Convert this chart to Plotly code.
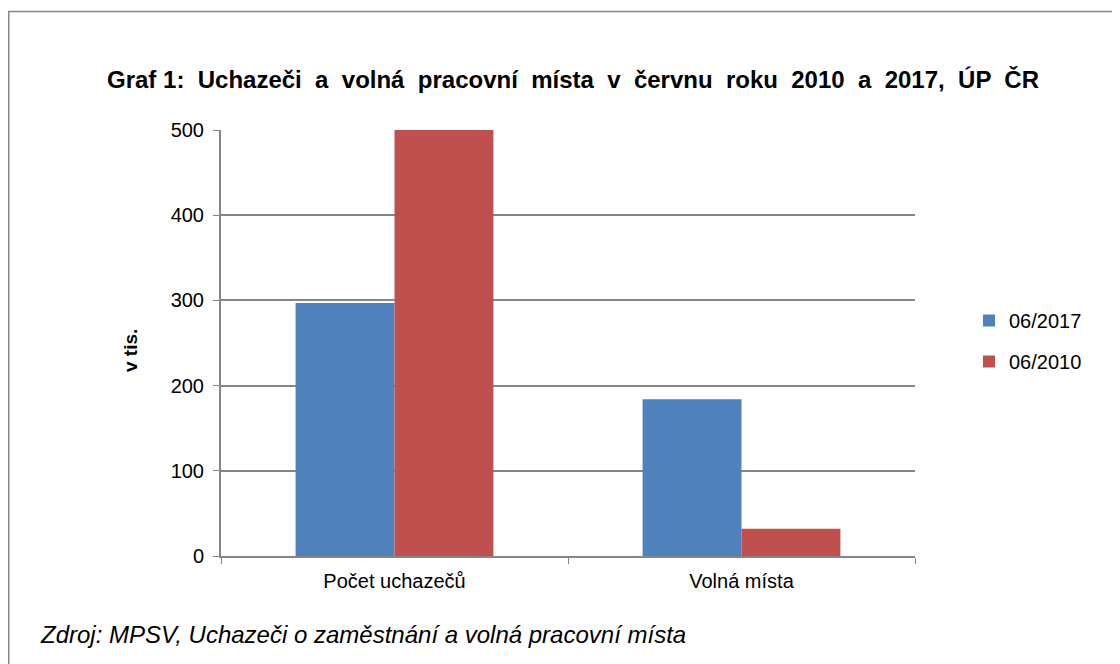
import plotly.graph_objects as go

# Data (v tis.)
categories = ["Počet uchazečů", "Volná místa"]
series_names = ["06/2017", "06/2010"]
values_2017 = [297, 184]
values_2010 = [500, 32]
y_ticks = [0, 100, 200, 300, 400, 500]

colors = {"06/2017": "#4F81BD", "06/2010": "#C0504D"}

# page body adds 8px around the figure, positions below are figure pixels
W, H = 1120, 664
L, T = 213, 122
pw, ph = 694, 426
R, B = W - L - pw, H - T - ph

def px_x(x):
    return (x - L) / pw

def px_y(y):
    return (T + ph - y) / ph

fig = go.Figure()
for name, vals in zip(series_names, [values_2017, values_2010]):
    fig.add_trace(go.Bar(x=categories, y=vals, name=name, legendgroup=name,
                         marker=dict(color=colors[name], line=dict(width=0))))

font = "Liberation Sans, Arial, sans-serif"

fig.update_layout(
    width=W, height=H,
    margin=dict(l=L, r=R, t=T, b=B),
    paper_bgcolor="white", plot_bgcolor="white",
    barmode="group", bargap=0.43, bargroupgap=0,
    font=dict(family=font, size=20, color="black"),
    title=dict(text="<b>Graf 1:  Uchazeči  a  volná  pracovní  místa  v  červnu  roku  2010  a  2017,  ÚP  ČR</b>",
               x=565 / W, xanchor="center", xref="container",
               y=1 - 72 / H, yanchor="middle", yref="container",
               font=dict(size=24, family=font, color="black")),
    legend=dict(x=px_x(961), y=px_y(333), xanchor="left", yanchor="middle",
                font=dict(size=20), itemwidth=30, traceorder="grouped", tracegroupgap=12,
                bgcolor="rgba(0,0,0,0)"),
    showlegend=True,
)

fig.update_xaxes(showgrid=False, showline=True, linecolor="#868686", linewidth=2,
                 ticks="outside", tickson="boundaries", ticklen=6, tickcolor="#868686",
                 tickfont=dict(size=20), ticklabelstandoff=6)
fig.update_yaxes(range=[0, 500], tickvals=y_ticks, showgrid=True, gridcolor="#868686", gridwidth=1.5,
                 showline=True, linecolor="#868686", linewidth=2,
                 ticks="outside", ticklen=6, tickcolor="#868686", tickfont=dict(size=20),
                 zeroline=False, ticklabelstandoff=5)

# y axis title
fig.add_annotation(text="<b>v tis.</b>", xref="paper", yref="paper",
                   x=px_x(122), y=px_y(343), textangle=-90, showarrow=False,
                   xanchor="center", yanchor="middle", font=dict(size=19, family=font))

# outer frame of the chart area
fig.add_shape(type="rect", xref="paper", yref="paper",
              x0=px_x(0.75), x1=px_x(W + 20), y0=px_y(3.5), y1=px_y(H + 20),
              line=dict(color="#868686", width=1.5), fillcolor="rgba(0,0,0,0)", layer="below")

fig.add_annotation(text="<i>Zdroj: MPSV, Uchazeči o zaměstnání a volná pracovní místa</i>",
                   xref="paper", yref="paper", x=px_x(30), y=px_y(626),
                   xanchor="left", yanchor="middle", showarrow=False,
                   font=dict(size=24, family=font, color="black"))

fig.write_html("out.html")
